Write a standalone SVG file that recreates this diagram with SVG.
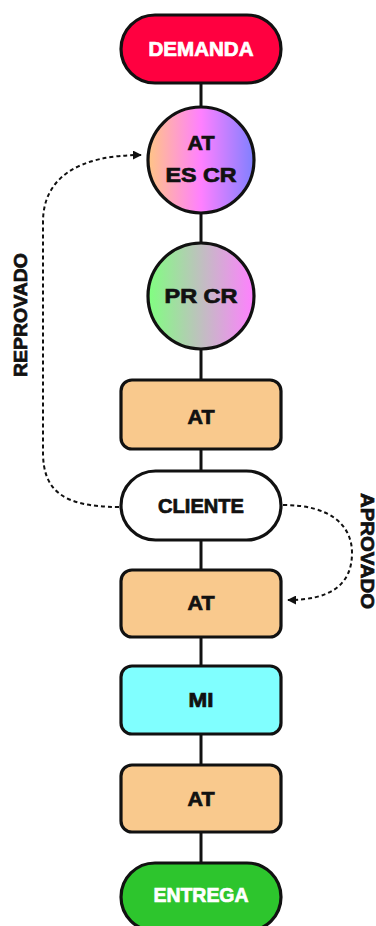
<svg xmlns="http://www.w3.org/2000/svg" width="376" height="926" viewBox="0 0 376 926">
  <defs>
    <linearGradient id="gradAtEsCr" x1="0" y1="0" x2="1" y2="0">
      <stop offset="0" stop-color="#FFC585"/>
      <stop offset="0.5" stop-color="#FF80FF"/>
      <stop offset="1" stop-color="#7F80FF"/>
    </linearGradient>
    <linearGradient id="gradPrCr" x1="0" y1="0" x2="1" y2="0">
      <stop offset="0" stop-color="#80FF80"/>
      <stop offset="1" stop-color="#FF80FF"/>
    </linearGradient>
    <marker id="arrow" viewBox="0 0 10 10" refX="9" refY="5" markerWidth="4.5" markerHeight="4.5" orient="auto" markerUnits="strokeWidth">
      <path d="M0,0 L10,5 L0,10 Z" fill="#111"/>
    </marker>
  </defs>
  <style>
    .node { stroke: #111; stroke-width: 3.2; }
    .lbl { font-family: "Liberation Sans", Arial, sans-serif; font-weight: bold; font-size: 19.5px; text-anchor: middle; dominant-baseline: central; fill: #111; stroke: #111; stroke-width: 0.7; }
    .white { fill: #fff; stroke: #fff; }
    .link { stroke: #111; stroke-width: 3; fill: none; }
    .dash { stroke: #111; stroke-width: 2; fill: none; stroke-dasharray: 4 3; }
    .side { font-family: "Liberation Sans", Arial, sans-serif; font-weight: bold; font-size: 18px; text-anchor: middle; dominant-baseline: central; fill: #111; stroke: #111; stroke-width: 0.7; }
  </style>

  <rect width="376" height="926" fill="#fff"/>

  <g id="connectors">
    <line class="link" x1="201" y1="82" x2="201" y2="108"/>
    <line class="link" x1="201" y1="212" x2="201" y2="243"/>
    <line class="link" x1="201" y1="348" x2="201" y2="380"/>
    <line class="link" x1="201" y1="448" x2="201" y2="471"/>
    <line class="link" x1="201" y1="540" x2="201" y2="570"/>
    <line class="link" x1="201" y1="637" x2="201" y2="666"/>
    <line class="link" x1="201" y1="734" x2="201" y2="765"/>
    <line class="link" x1="201" y1="832" x2="201" y2="863"/>
    <path class="dash" marker-end="url(#arrow)" d="M119,507 C62,507 43,490 43,452 L43,222 C43,178 78,155 141,155"/>
    <path class="dash" marker-end="url(#arrow)" d="M283,505 C330,505 352,525 352,553 C352,585 330,600 288,600"/>
    <text class="side" transform="translate(21,315) rotate(-90)" textLength="124" lengthAdjust="spacingAndGlyphs">REPROVADO</text>
    <text class="side" transform="translate(367,551) rotate(90)" textLength="116" lengthAdjust="spacingAndGlyphs">APROVADO</text>
  </g>

  <g id="demanda">
    <rect class="node" x="121" y="15" width="160" height="68" rx="34" fill="#FF0040"/>
    <text class="lbl white" x="201" y="49" textLength="105" lengthAdjust="spacingAndGlyphs">DEMANDA</text>
  </g>

  <g id="at-es-cr">
    <circle class="node" cx="201" cy="160" r="53" fill="url(#gradAtEsCr)"/>
    <text class="lbl" x="201" y="143" textLength="27" lengthAdjust="spacingAndGlyphs">AT</text>
    <text class="lbl" x="201" y="175" textLength="71" lengthAdjust="spacingAndGlyphs">ES CR</text>
  </g>

  <g id="pr-cr">
    <circle class="node" cx="201" cy="296" r="53" fill="url(#gradPrCr)"/>
    <text class="lbl" x="201" y="296" textLength="73" lengthAdjust="spacingAndGlyphs">PR CR</text>
  </g>

  <g id="at-1">
    <rect class="node" x="121" y="380" width="160" height="69" rx="11" fill="#F9C98D"/>
    <text class="lbl" x="201" y="417" textLength="27" lengthAdjust="spacingAndGlyphs">AT</text>
  </g>

  <g id="cliente">
    <rect class="node" x="121" y="471" width="160" height="69" rx="34.5" fill="#fff"/>
    <text class="lbl" x="201" y="506" textLength="86" lengthAdjust="spacingAndGlyphs">CLIENTE</text>
  </g>

  <g id="at-2">
    <rect class="node" x="121" y="570" width="160" height="67" rx="11" fill="#F9C98D"/>
    <text class="lbl" x="201" y="603" textLength="27" lengthAdjust="spacingAndGlyphs">AT</text>
  </g>

  <g id="mi">
    <rect class="node" x="121" y="666" width="160" height="68" rx="11" fill="#80FFFF"/>
    <text class="lbl" x="201" y="700" textLength="25" lengthAdjust="spacingAndGlyphs">MI</text>
  </g>

  <g id="at-3">
    <rect class="node" x="121" y="765" width="160" height="67" rx="11" fill="#F9C98D"/>
    <text class="lbl" x="201" y="799" textLength="27" lengthAdjust="spacingAndGlyphs">AT</text>
  </g>

  <g id="entrega">
    <rect class="node" x="121" y="863" width="160" height="68" rx="34" fill="#2DC52D"/>
    <text class="lbl white" x="201" y="895" textLength="95" lengthAdjust="spacingAndGlyphs">ENTREGA</text>
  </g>
</svg>
